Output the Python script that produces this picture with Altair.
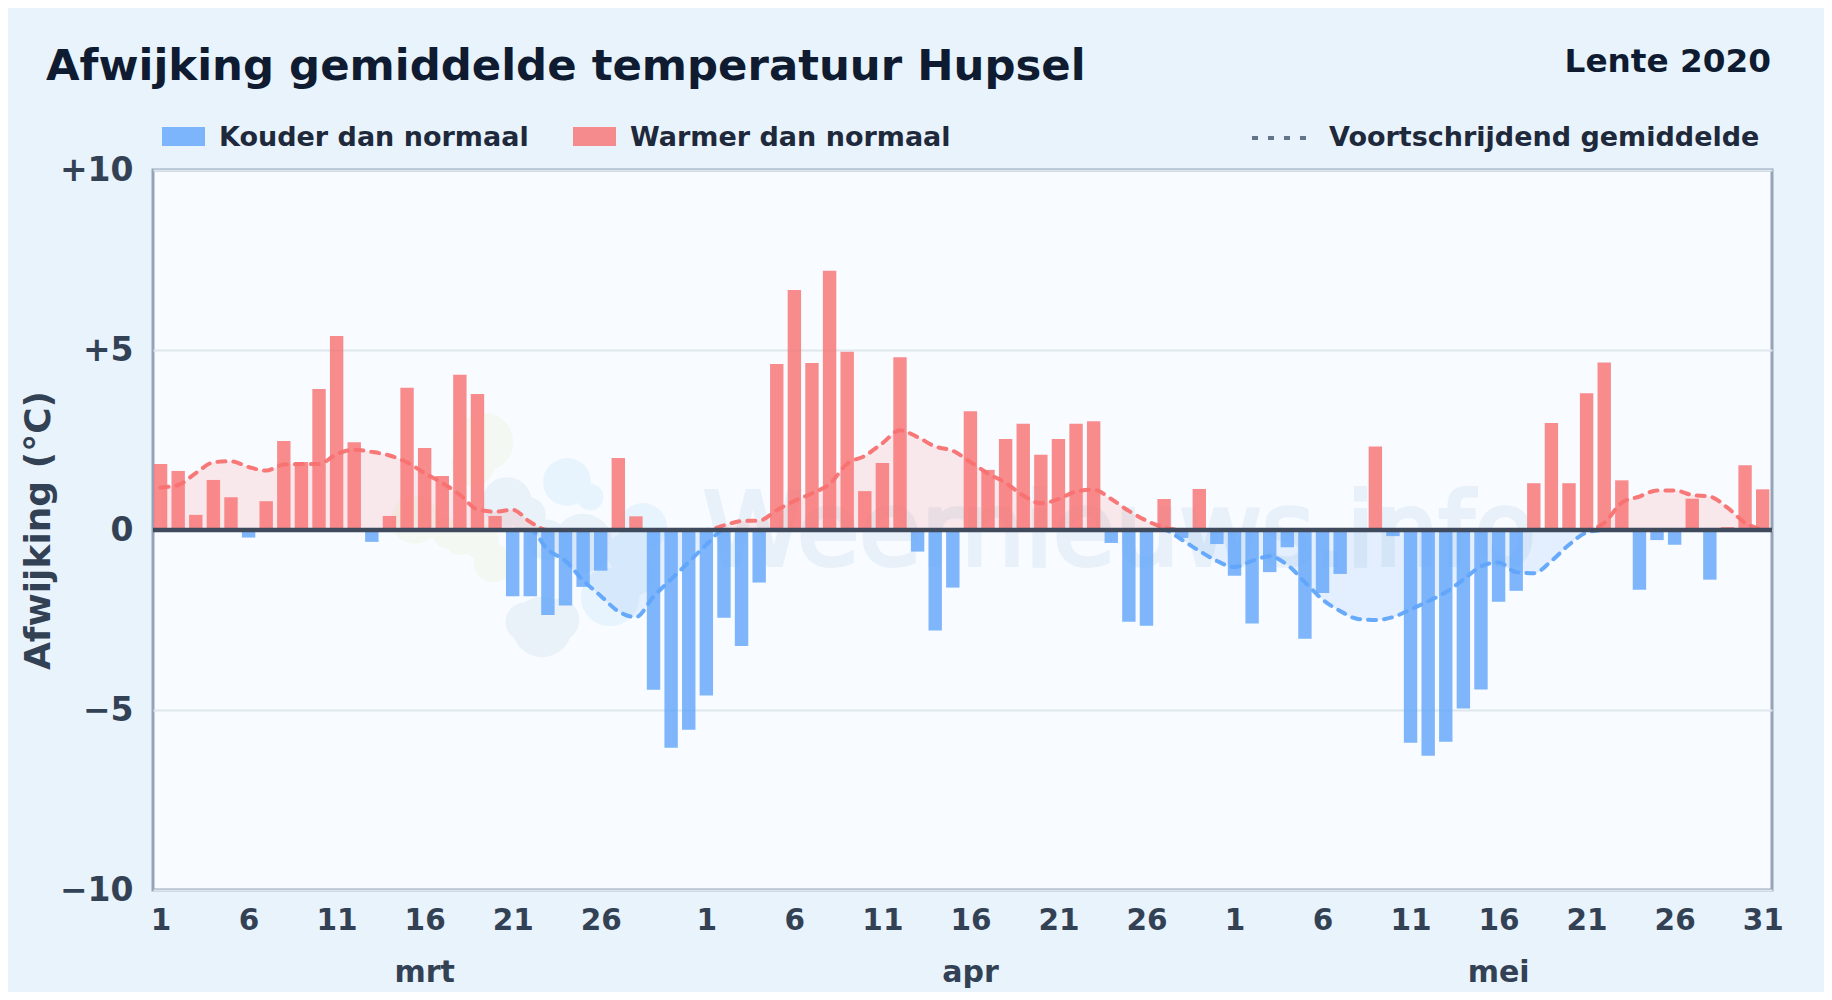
import altair as alt
import pandas as pd

daily = [1.83,1.64,.42,1.39,.91,-.21,.80,2.47,1.89,3.92,5.39,2.44,-.33,.39,3.95,2.28,1.5,4.31,3.78,.39,
         -1.84,-1.84,-2.36,-2.1,-1.58,-1.13,2.0,.38,-4.44,-6.05,-5.55,
         -4.6,-2.44,-3.22,-1.46,4.61,6.67,4.64,7.2,4.95,1.08,1.86,4.8,-.6,-2.79,-1.6,3.3,1.67,2.53,2.95,2.09,2.53,2.95,3.02,-.36,-2.55,-2.66,.86,-.22,1.14,-.39,
         -1.27,-2.6,-1.17,-.48,-3.02,-1.75,-1.22,0,2.32,-.17,-5.91,-6.27,-5.88,-4.96,-4.43,-1.99,-1.69,1.3,2.97,1.3,3.8,4.65,1.38,-1.66,-.28,-.41,.87,-1.38,.08,1.8,1.13]
smooth = [1.18,1.25,1.58,1.88,1.91,1.75,1.65,1.82,1.83,1.83,2.11,2.23,2.17,2.07,1.88,1.58,1.31,.98,.57,.51,.56,.22,-.55,-.86,-1.4,-1.83,-2.26,-2.42,-1.85,-1.37,-.89,
          -.41,.13,.25,.26,.55,.81,1.02,1.28,1.84,2.06,2.41,2.77,2.58,2.32,2.2,1.89,1.57,1.31,.96,.74,.86,1.07,1.12,.86,.53,.26,.07,-.27,-.58,-.86,
          -1.03,-.86,-.73,-.97,-1.45,-1.93,-2.25,-2.47,-2.5,-2.42,-2.21,-1.98,-1.73,-1.38,-1.01,-.9,-1.17,-1.2,-.86,-.41,-.07,.2,.76,.93,1.1,1.1,.97,.93,.62,.2,0]
tick_days = [0,5,10,15,20,25,31,36,41,46,51,56,61,66,71,76,81,86,91]
months = ["mrt","apr","mei"]
month_mid = [15,46,76]

INK="#0f1b30"; AXIS="#334155"; LEG="#1e293b"
RED="#f87171"; BLUE="#60a5fa"; FONT="DejaVu Sans"
GREEN_W="#f3f9f2"; GRAY_W="#e9f1f9"; SKY_W="#e8f4fd"

df = pd.DataFrame({"d":range(len(daily)),"v":daily,"s":smooth})
df["sign"] = ["warm" if v>=0 else "cold" for v in df.v]
df["sp"] = df.s.clip(lower=0)
df["sn"] = df.s.clip(upper=0)
df["zero"] = 0

xs = alt.Scale(domain=[-0.43,91.53],nice=False,zero=False,padding=0)
ys = alt.Scale(domain=[-10,10],nice=False)
X = alt.X("d:Q",scale=xs,axis=alt.Axis(values=tick_days,grid=False,domain=False,ticks=False,
        labelExpr="datum.value<31?datum.value+1:datum.value<61?datum.value-30:datum.value-60",
        labelFont=FONT,labelFontWeight="bold",labelFontSize=29.5,labelColor=AXIS,labelPadding=16,labelOverlap=False,title=None))
Y = alt.Y("v:Q",scale=ys,axis=alt.Axis(values=[-10,-5,0,5,10],grid=True,gridColor="#dfe7ee",gridWidth=2,domain=False,ticks=False,
        labelExpr="datum.value>0?'+'+datum.value:datum.value<0?'\u2212'+abs(datum.value):'0'",
        labelFont=FONT,labelFontWeight="bold",labelFontSize=33,labelColor=AXIS,labelPadding=20,
        title="Afwijking (\u00b0C)",titleFont=FONT,titleFontWeight="bold",titleFontSize=36,titleColor=AXIS,titlePadding=2))
base = alt.Chart(df)

bars = base.mark_bar(size=13.4,orient="vertical",opacity=.8).encode(x=X,y=Y,
    color=alt.Color("sign:N",scale=alt.Scale(domain=["warm","cold"],range=[RED,BLUE]),legend=None))
area_p = base.mark_area(color=RED,opacity=.14,interpolate="monotone").encode(x=alt.X("d:Q",scale=xs),y=alt.Y("sp:Q",scale=ys),y2="zero:Q")
area_n = base.mark_area(color=BLUE,opacity=.14,interpolate="monotone").encode(x=alt.X("d:Q",scale=xs),y=alt.Y("sn:Q",scale=ys),y2="zero:Q")
dash_style = dict(strokeWidth=4,strokeDash=[8,8],strokeCap="round",opacity=.95,interpolate="monotone")
line_p = base.mark_line(color=RED,**dash_style).encode(x=alt.X("d:Q",scale=xs),y=alt.Y("sp:Q",scale=ys))
line_n = base.mark_line(color=BLUE,**dash_style).encode(x=alt.X("d:Q",scale=xs),y=alt.Y("sn:Q",scale=ys))
zero = alt.Chart(pd.DataFrame({"z":[0]})).mark_rule(color="#3f4a5c",strokeWidth=4.5).encode(y=alt.Y("z:Q",scale=ys))

mon = alt.Chart(pd.DataFrame({"m":months,"x":month_mid})).mark_text(font=FONT,fontWeight="bold",fontSize=30,color=AXIS,clip=False).encode(
    x=alt.X("x:Q",scale=xs),y=alt.value(803),text="m:N")

def txt(t,x,y,size,color,align="left",weight="bold",baseline="middle",**kw):
    return alt.Chart(pd.DataFrame({"t":[t]})).mark_text(font=FONT,fontWeight=weight,fontSize=size,color=color,align=align,baseline=baseline,**kw).encode(
        x=alt.value(x),y=alt.value(y),text="t:N")
def swatch(x,c):
    return alt.Chart(pd.DataFrame({"a":[0]})).mark_rect(color=c,opacity=.8).encode(x=alt.value(x),x2=alt.value(x+43),y=alt.value(-43),y2=alt.value(-24))
def blob(x,y,r,c):
    return alt.Chart(pd.DataFrame({"a":[0]})).mark_circle(color=c,opacity=1,size=3.1416*r*r).encode(x=alt.value(x),y=alt.value(y))

blobs = [blob(331,272,33,GREEN_W),blob(320,295,24,GREEN_W),blob(262,350,27,GREEN_W),blob(294,363,17,GREEN_W),blob(340,393,22,GREEN_W),blob(307,370,17,GREEN_W),blob(328,372,20,GREEN_W),
         blob(354,332,28,GRAY_W),blob(375,345,20,GRAY_W),blob(430,373,33,GRAY_W),blob(394,370,23,GRAY_W),
         blob(414,312,27,SKY_W),blob(437,327,15,SKY_W),blob(490,357,27,SKY_W),blob(457,427,33,SKY_W),blob(474,383,23,SKY_W),blob(480,405,24,SKY_W),
         blob(389,457,34,GRAY_W),blob(372,452,22,GRAY_W),blob(405,450,24,GRAY_W)]
mark_word = txt("Weernieuws.info",550,395,101,"#e8f0f9",baseline="alphabetic",weight="normal",stroke="#e8f0f9",strokeWidth=4)

title = txt("Afwijking gemiddelde temperatuur Hupsel",-107,-103,43.4,INK)
sub = txt("Lente 2020",1618,-108.5,32.7,INK,"right")
leg = [swatch(9,BLUE),txt("Kouder dan normaal",66,-32,27,LEG),swatch(420,RED),txt("Warmer dan normaal",477,-32,27,LEG),txt("Voortschrijdend gemiddelde",1176,-32,27,LEG)]
dash = alt.Chart(pd.DataFrame({"a":[0]})).mark_rule(color="#64748b",strokeWidth=4,strokeDash=[6,10]).encode(x=alt.value(1099),x2=alt.value(1155),y=alt.value(-32))

chart = alt.layer(*blobs,mark_word,area_p,area_n,bars,line_p,line_n,zero,mon,title,sub,*leg,dash).properties(
    width=1619,height=720,background="#e8f3fc",padding={"left":145,"top":162,"right":52,"bottom":102},
    autosize=alt.AutoSizeParams(type="none",contains="content")
).configure_view(fill="#f8fbff",stroke="#94a3b8",strokeWidth=3)

chart.save("out.html", embed_options={"renderer": "svg", "actions": False})
